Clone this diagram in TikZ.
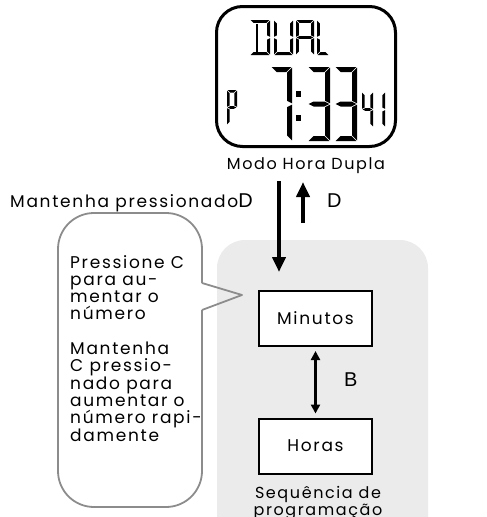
\documentclass[tikz,border=0pt]{standalone}
\usepackage{fontspec}
\setmainfont{Poppins}[LetterSpace=10]
\newfontfamily\keyfont{Liberation Sans}
\usetikzlibrary{arrows.meta}

\definecolor{panelgray}{HTML}{EBEBEB}
\definecolor{bubblegray}{HTML}{8C8C8C}

% seven-segment LCD segments, drawn in a box of \segw x \segh (y downwards)
\def\segg{0.7}
\newcommand\lcdA{\fill (\segg,0) -- (\segw-\segg,0) -- (\segw-\segg-\segt,\segt) -- (\segg+\segt,\segt) -- cycle;}
\newcommand\lcdD{\fill (\segg,\segh) -- (\segw-\segg,\segh) -- (\segw-\segg-\segt,\segh-\segt) -- (\segg+\segt,\segh-\segt) -- cycle;}
\newcommand\lcdF{\fill (0,\segg) -- (\segt,\segg+\segt) -- (\segt,\segh/2-\segg-\segt/2) -- (0,\segh/2-\segg) -- cycle;}
\newcommand\lcdE{\fill (0,\segh-\segg) -- (\segt,\segh-\segg-\segt) -- (\segt,\segh/2+\segg+\segt/2) -- (0,\segh/2+\segg) -- cycle;}
\newcommand\lcdB{\fill (\segw,\segg) -- (\segw-\segt,\segg+\segt) -- (\segw-\segt,\segh/2-\segg-\segt/2) -- (\segw,\segh/2-\segg) -- cycle;}
\newcommand\lcdC{\fill (\segw,\segh-\segg) -- (\segw-\segt,\segh-\segg-\segt) -- (\segw-\segt,\segh/2+\segg+\segt/2) -- (\segw,\segh/2+\segg) -- cycle;}
\newcommand\lcdG{\fill (\segg,\segh/2) -- (\segg+\segt,\segh/2-\segt/2) -- (\segw-\segg-\segt,\segh/2-\segt/2) -- (\segw-\segg,\segh/2) -- (\segw-\segg-\segt,\segh/2+\segt/2) -- (\segg+\segt,\segh/2+\segt/2) -- cycle;}
% inset left stroke of the letter D
\newcommand\lcdI{\fill (\segw*0.28,\segt+\segg) -- (\segw*0.28+\segt,\segt+\segg) -- (\segw*0.28+\segt,\segh-\segt-\segg) -- (\segw*0.28,\segh-\segt-\segg) -- cycle;}
% \lcdglyph{x}{y}{width}{height}{thickness}{segments}
\newcommand\lcdglyph[6]{%
  \begin{scope}[shift={(#1,#2)}]
    \def\segw{#3}\def\segh{#4}\def\segt{#5}%
    \foreach \s in {#6}{\csname lcd\s\endcsname}
  \end{scope}}

\tikzset{
  txt/.style={font=\fontsize{17}{17.3}\selectfont, inner sep=0pt},
  smalltxt/.style={font=\fontsize{16}{16.5}\selectfont, inner sep=0pt},
  keytxt/.style={font=\keyfont\fontsize{20}{22}\selectfont, inner sep=0pt},
  stepbox/.style={draw, line width=2pt, fill=white, minimum width=113pt, minimum height=55pt, inner sep=0pt, font=\fontsize{17}{17}\selectfont},
  bigarrow/.style={line width=4pt, -{Triangle[width=13pt,length=15pt]}},
  smallarrow/.style={line width=2.6pt, {Triangle[width=9pt,length=9pt]}-{Triangle[width=9pt,length=9pt]}},
  bubbleline/.style={draw=bubblegray, line width=1.8pt, line join=round},
}

\begin{document}
\begin{tikzpicture}[x=1pt,y=-1pt]
\useasboundingbox (0,0) rectangle (487,517);

% programming sequence panel
\fill[panelgray, rounded corners=28pt] (217,240) rectangle (428,560);

% watch display
\node[draw, line width=3pt, rounded corners=26pt, minimum width=179pt, minimum height=140pt, inner sep=0pt] (lcd) at (306,76.5) {};
% DUAL
\lcdglyph{250}{20}{20}{35}{2.8}{A,B,C,D,I}
\lcdglyph{274}{20}{19}{35}{2.8}{B,C,D,E,F}
\lcdglyph{296}{20}{18}{35}{2.8}{A,B,C,E,F,G}
\lcdglyph{317}{20}{12}{35}{2.8}{D,E,F}
% P
\lcdglyph{227}{90}{10}{35}{2.6}{A,B,E,F,G}
% 7:33
\lcdglyph{271}{67}{21}{74}{5}{A,B,C}
\fill (295.5,91) rectangle (301,97);
\fill (295.5,115) rectangle (301,121);
\lcdglyph{308}{67}{22}{74}{5}{A,B,C,D,G}
\lcdglyph{335}{67}{22}{74}{5}{A,B,C,D,G}
% seconds 41
\lcdglyph{362}{92}{11}{35}{2.6}{B,C,F,G}
\lcdglyph{374}{92}{11}{35}{2.6}{B,C}

\node[smalltxt, anchor=base] (modelabel) at (306,169) {Modo Hora Dupla};

% entering and leaving the setting mode
\node[txt, anchor=base west] (holdlabel) at (10,207) {Mantenha pressionado\keyfont\fontsize{20}{22}\selectfont D};
\coordinate (downstart) at (279,181);
\coordinate (downend) at (279,272);
\coordinate (upstart) at (303,223);
\coordinate (upend) at (303,182);
\draw[bigarrow] (downstart) -- (downend);
\draw[bigarrow] (upstart) -- (upend);
\node[keytxt, anchor=base west] (exitkey) at (327,207) {D};

% help bubble
\draw[bubbleline, rounded corners=36pt] (202,283) -- (202,213) -- (58,213) -- (58,507) -- (202,507) -- (202,310);
\coordinate (bubbletip) at (242,295);
\draw[bubbleline] (202,283) -- (bubbletip) -- (202,310);
\node[txt, anchor=base west, align=left] (helptext) at (70,441) {Pressione C\\para au-\\mentar o\\número\\[17.3pt]Mantenha\\C pressio-\\nado para\\aumentar o\\número rapi-\\damente};

% setting steps
\node[stepbox] (minutos) at (315.5,318.5) {Minutos};
\node[stepbox] (horas) at (315.5,446) {Horas};
\draw[smallarrow, shorten <=4pt, shorten >=4pt] (minutos) -- (horas);
\node[keytxt, anchor=base west] (nextkey) at (344,386) {B};

\node[smalltxt, anchor=base, align=center] (seqlabel) at (318,515) {Sequência de\\programação};
\end{tikzpicture}
\end{document}
